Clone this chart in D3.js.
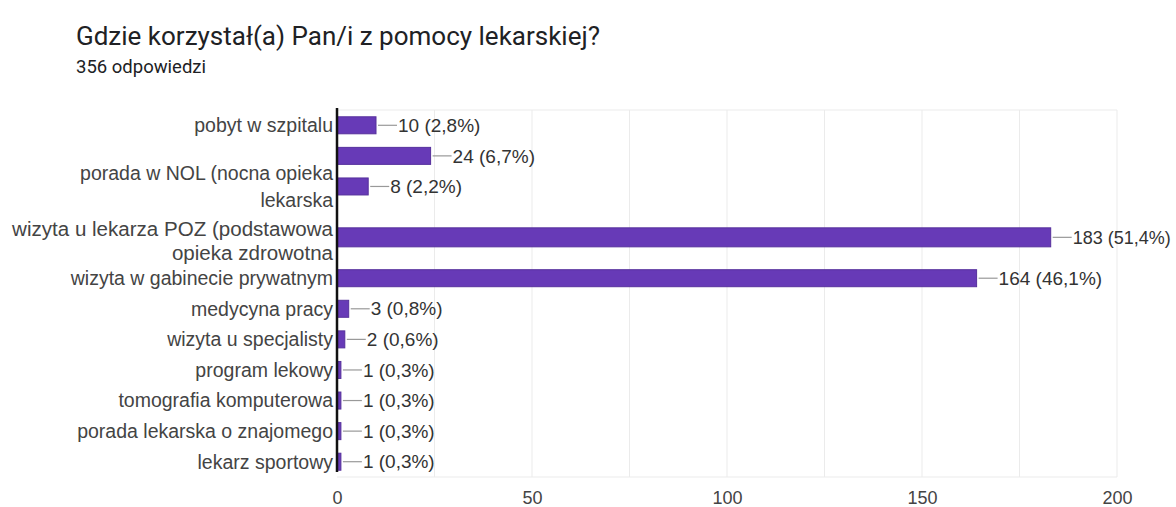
<!DOCTYPE html>
<meta charset="utf-8">
<style>
body { margin: 0; background: #fff; }
text { font-family: "Liberation Sans", Arial, sans-serif; }
.title { font-family: Roboto, "Liberation Sans", sans-serif; }
.grid line { stroke: #ebebeb; }
</style>

<svg width="1176" height="507"></svg>

<script src="https://d3js.org/d3.v7.min.js"></script>
<script>

var svg = d3.select("svg");

// dane z odczytu wykresu
var total = 356;
var categories = ["pobyt w szpitalu", "(bez etykiety)", "porada w NOL", "wizyta u lekarza POZ",
  "wizyta w gabinecie prywatnym", "medycyna pracy", "wizyta u specjalisty", "program lekowy",
  "tomografia komputerowa", "porada lekarska o znajomego", "lekarz sportowy"];
var counts = [10, 24, 8, 183, 164, 3, 2, 1, 1, 1, 1];
var labelLines = [["pobyt w szpitalu"], [], ["porada w NOL (nocna opieka", "lekarska"],
  ["wizyta u lekarza POZ (podstawowa", "opieka zdrowotna"], ["wizyta w gabinecie prywatnym"],
  ["medycyna pracy"], ["wizyta u specjalisty"], ["program lekowy"], ["tomografia komputerowa"],
  ["porada lekarska o znajomego"], ["lekarz sportowy"]];
var xTicks = [0, 50, 100, 150, 200];
var gridTicks = [25, 50, 75, 100, 125, 150, 175, 200];

var rows = categories.map((c, i) => ({name: c, value: counts[i], lines: labelLines[i], i: i}));

var x = d3.scaleLinear().domain([0, 200]).range([337, 1117]);

// 12 wierszy: wiersz POZ zajmuje miejsce dwóch
var y = d3.scaleBand().domain(d3.range(12)).range([110, 477]);
function rowCenter(i) {
  if (i < 3) return y(i) + y.bandwidth() / 2;
  if (i === 3) return y(4) + 5;
  return y(i + 1) + y.bandwidth() / 2;
}
var barH = 17;
var labelSize = 19.5;

// tytuł
svg.append("text").attr("class", "title")
    .attr("x", 76).attr("y", 45)
    .attr("font-size", 26).attr("fill", "#202124")
    .text("Gdzie korzystał(a) Pan/i z pomocy lekarskiej?");
svg.append("text").attr("class", "title")
    .attr("x", 76).attr("y", 73)
    .attr("font-size", 18.5).attr("fill", "#202124")
    .text(total + " odpowiedzi");

// siatka
var grid = svg.append("g").attr("class", "grid");
grid.selectAll("line.v").data(gridTicks).enter().append("line")
    .attr("class", "v")
    .attr("x1", d => x(d)).attr("x2", d => x(d))
    .attr("y1", 110).attr("y2", 477);
grid.selectAll("line.h").data([110, 477]).enter().append("line")
    .attr("class", "h")
    .attr("x1", x(0)).attr("x2", x(200))
    .attr("y1", d => d).attr("y2", d => d);

// oś X (etykiety)
svg.append("g")
    .attr("transform", "translate(0,490)")
    .call(d3.axisBottom(x).tickValues(xTicks).tickSize(0).tickPadding(0))
    .call(g => g.select(".domain").remove())
    .call(g => g.selectAll("text")
        .attr("font-size", 18).attr("fill", "#444")
        .attr("font-family", "'Liberation Sans', Arial, sans-serif")
        .attr("dy", "0.75em"));

// słupki
svg.append("g").selectAll("rect").data(rows).enter().append("rect")
    .attr("x", x(0))
    .attr("y", d => rowCenter(d.i) - (d.i === 3 ? barH + 2 : barH) / 2)
    .attr("width", d => x(d.value) - x(0))
    .attr("height", d => d.i === 3 ? barH + 2 : barH)
    .attr("fill", "#673ab7")
    .attr("stroke", "#56309c")
    .attr("stroke-width", 1);

// etykiety wartości
var vl = svg.append("g").selectAll("g").data(rows).enter().append("g");
vl.append("line")
    .attr("x1", d => x(d.value) + 2).attr("x2", d => x(d.value) + 21)
    .attr("y1", d => rowCenter(d.i)).attr("y2", d => rowCenter(d.i))
    .attr("stroke", "#999").attr("stroke-width", 1.2);
vl.append("text")
    .attr("x", d => x(d.value) + 22)
    .attr("y", d => rowCenter(d.i))
    .attr("dy", "0.35em")
    .attr("font-size", d => d.i === 3 ? 18 : 19).attr("fill", "#333")
    .text(d => d.value + " (" + (d.value / total * 100).toFixed(1).replace(".", ",") + "%)");

// etykiety kategorii
var labels = svg.append("g").selectAll("text").data(rows).enter().append("text")
    .attr("text-anchor", "end")
    .attr("font-size", labelSize).attr("fill", "#444")
    .attr("y", d => rowCenter(d.i) + (d.i === 3 ? 3 : 0) - (d.lines.length - 1) * (d.i === 3 ? 24 : 27) / 2);
labels.selectAll("tspan").data(d => d.lines.map((t, j) => ({t: t, j: j, lh: d.i === 3 ? 24 : 27}))).enter().append("tspan")
    .attr("x", 333)
    .attr("dy", d => d.j === 0 ? "0.35em" : d.lh)
    .text(d => d.t);

// etykieta POZ jest w obrazie nieco większa: dopasuj do szerokości ok. 323 px
labels.filter(d => d.i === 3).each(function() {
  var first = d3.select(this).select("tspan").node();
  var w = first.getComputedTextLength();
  if (w > 0) d3.select(this).attr("font-size", Math.min(labelSize * 1.2, labelSize * 321 / w));
});

// oś pionowa
svg.append("line")
    .attr("x1", x(0)).attr("x2", x(0))
    .attr("y1", 108).attr("y2", 472)
    .attr("stroke", "#111").attr("stroke-width", 2.5);

</script>
